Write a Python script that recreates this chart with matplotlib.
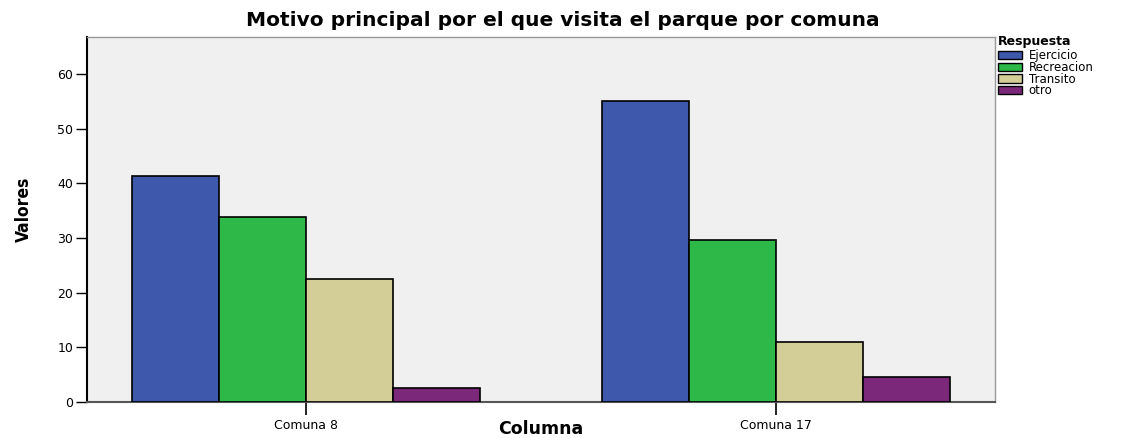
import matplotlib
matplotlib.use("Agg")
import matplotlib.pyplot as plt
from matplotlib.patches import Patch
import numpy as np

categories = ["Comuna 8", "Comuna 17"]
series = ["Ejercicio", "Recreacion", "Transito", "otro"]
ejercicio = [41.3, 55.0]
recreacion = [33.8, 29.7]
transito = [22.6, 11.0]
otro = [2.5, 4.5]
values = [ejercicio, recreacion, transito, otro]
colors = ["#3E58AC", "#2EB848", "#D3CE97", "#7B287B"]

plt.rcParams['font.family'] = ['DejaVu Sans']

fig = plt.figure(figsize=(11.3, 4.38), dpi=100)
ax = fig.add_axes([87/1130, 1-402/438, (995-87)/1130, (402-37)/438])
ax.set_facecolor("#F0F0F0")

x = np.arange(len(categories))
w = 0.185
for i, (s, v, c) in enumerate(zip(series, values, colors)):
    ax.bar(x + (i - 1.5) * w, v, width=w, color=c, edgecolor="black",
           linewidth=1.2, label=s, zorder=3)

ax.set_xlim(-0.466, 1.466)
ax.set_ylim(0, 66.8)
ax.set_yticks([0, 10, 20, 30, 40, 50, 60])
ax.set_xticks(x)
ax.set_xticklabels(categories, fontsize=9)
ax.tick_params(axis='y', labelsize=9, length=8, width=1, direction='out', pad=2)
ax.tick_params(axis='x', length=9, width=1.2, direction='out', pad=3)

for side in ['top', 'right']:
    ax.spines[side].set_color('#999999')
    ax.spines[side].set_linewidth(1.0)
ax.spines['bottom'].set_color('#555555')
ax.spines['bottom'].set_linewidth(1.5)
ax.spines['left'].set_color('black')
ax.spines['left'].set_linewidth(1.5)

fig.text(563/1130, 1-21/438, "Motivo principal por el que visita el parque por comuna",
         ha='center', va='center', fontsize=14.5, fontweight='bold')
fig.text(541/1130, 1-429/438, "Columna", ha='center', va='center',
         fontsize=12.5, fontweight='bold')
fig.text(24/1130, 1-209/438, "Valores", ha='center', va='center', rotation=90,
         fontsize=12.5, fontweight='bold', stretch='condensed')

handles = [Patch(facecolor=c, edgecolor='black', linewidth=1.0) for c in colors]
leg = fig.legend(handles, series, loc='upper left', bbox_to_anchor=(998/1130, 1-35/438),
                 frameon=False, fontsize=8.5, title="Respuesta",
                 title_fontproperties={'weight': 'bold', 'size': 9},
                 handlelength=2.0, handleheight=0.7, handletextpad=0.6,
                 labelspacing=-0.12, borderpad=0.0, borderaxespad=0.0)
leg._legend_box.align = "left"
leg._legend_box.sep = 1

fig.savefig("out.png", dpi=100)
